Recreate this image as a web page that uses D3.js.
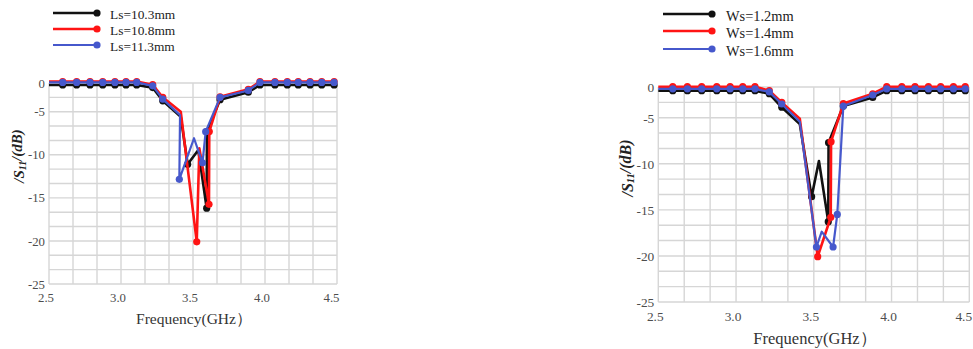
<!DOCTYPE html>
<html>
<head>
<meta charset="utf-8">
<script src="https://cdn.jsdelivr.net/npm/d3@7"></script>
<style>
  html, body { margin: 0; padding: 0; background: #fff; }
  svg { display: block; font-family: "Liberation Serif", "Times New Roman", serif; }
  svg text { font-family: "Liberation Serif", "Times New Roman", serif; }
</style>
</head>
<body>
<svg id="chart" width="973" height="349"></svg>
<script>
// ---- axis ticks ----
const xTicks = [2.5, 3.0, 3.5, 4.0, 4.5];
const yTicks = [0, -5, -10, -15, -20, -25];

// ---- slot length sweep (Ls) ----
const lsLabels = ["Ls=10.3mm", "Ls=10.8mm", "Ls=11.3mm"];
const ls103Freq = [2.5, 2.595, 2.692, 2.785, 2.873, 2.958, 3.035, 3.109, 3.22, 3.29, 3.415,
                   3.463, 3.537, 3.595, 3.597,
                   3.688, 3.884, 3.965, 4.069, 4.155, 4.231, 4.313, 4.394, 4.48];
const ls103S11 = [-0.35, -0.35, -0.35, -0.35, -0.35, -0.35, -0.35, -0.35, -0.8, -3.1, -5.6,
                  -11.1, -9.44, -16.2, -7.3,
                  -2.9, -1.6, -0.35, -0.35, -0.35, -0.35, -0.35, -0.35, -0.35];
const ls103Bare = [0, 10, 12];

const ls108Freq = [2.5, 2.595, 2.692, 2.785, 2.873, 2.958, 3.035, 3.109, 3.22, 3.29, 3.415,
                   3.526, 3.544, 3.611, 3.613,
                   3.688, 3.884, 3.965, 4.069, 4.155, 4.231, 4.313, 4.394, 4.48];
const ls108S11 = [0.25, 0.25, 0.25, 0.25, 0.25, 0.25, 0.25, 0.25, -0.3, -2.5, -5.0,
                  -20.1, -9.25, -15.75, -7.3,
                  -2.4, -1.1, 0.25, 0.25, 0.25, 0.25, 0.25, 0.25, 0.25];
const ls108Bare = [0, 10, 12];

const ls113Freq = [2.5, 2.595, 2.692, 2.785, 2.873, 2.958, 3.035, 3.109, 3.22, 3.29, 3.41,
                   3.405, 3.507, 3.566, 3.588,
                   3.688, 3.884, 3.965, 4.069, 4.155, 4.231, 4.313, 4.394, 4.48];
const ls113S11 = [0.1, 0.1, 0.1, 0.1, 0.1, 0.1, 0.1, 0.1, -0.5, -2.8, -5.4,
                  -12.85, -8.08, -10.93, -7.32,
                  -2.5, -1.3, 0.1, 0.1, 0.1, 0.1, 0.1, 0.1, 0.1];
const ls113Bare = [0, 10, 12];

// ---- slot width sweep (Ws) ----
const wsLabels = ["Ws=1.2mm", "Ws=1.4mm", "Ws=1.6mm"];
const ws12Freq = [2.5, 2.593, 2.687, 2.779, 2.876, 2.962, 3.043, 3.122, 3.214, 3.294, 3.41,
                  3.486, 3.533, 3.593, 3.595,
                  3.69, 3.879, 3.969, 4.066, 4.151, 4.237, 4.316, 4.398, 4.474];
const ws12S11 = [-0.6, -0.6, -0.6, -0.6, -0.6, -0.6, -0.6, -0.6, -1.1, -3.3, -5.7,
                 -13.57, -9.7, -16.28, -7.71,
                 -3.1, -1.7, -0.6, -0.6, -0.6, -0.6, -0.6, -0.6, -0.6];
const ws12Bare = [0, 10, 12];

const ws14Freq = [2.5, 2.593, 2.687, 2.779, 2.876, 2.962, 3.043, 3.122, 3.214, 3.294, 3.41,
                  3.525, 3.609, 3.611,
                  3.69, 3.879, 3.969, 4.066, 4.151, 4.237, 4.316, 4.398, 4.474];
const ws14S11 = [0.05, 0.05, 0.05, 0.05, 0.05, 0.05, 0.05, 0.05, -0.6, -2.5, -5.1,
                 -20.08, -15.8, -7.6,
                 -2.7, -1.1, 0.05, 0.05, 0.05, 0.05, 0.05, 0.05, 0.05];
const ws14Bare = [0, 10];

const ws16Freq = [2.5, 2.593, 2.687, 2.779, 2.876, 2.962, 3.043, 3.122, 3.214, 3.294, 3.41,
                  3.517, 3.551, 3.624, 3.651,
                  3.69, 3.879, 3.969, 4.066, 4.151, 4.237, 4.316, 4.398, 4.474];
const ws16S11 = [-0.3, -0.3, -0.3, -0.3, -0.3, -0.3, -0.3, -0.3, -0.8, -2.77, -5.43,
                 -19.03, -17.37, -19.03, -15.5,
                 -3.1, -1.3, -0.3, -0.3, -0.3, -0.3, -0.3, -0.3, -0.3];
const ws16Bare = [0, 10, 12];

const seriesColors = ["#111111", "#ff1414", "#4658cc"];
const seriesWidths = [2.6, 2.6, 2.2];
const serif = "'Liberation Serif', 'Times New Roman', serif";

function zipSeries(freq, s11, bare) {
  return freq.map((f, i) => ({ f, v: s11[i], marked: !bare.includes(i) }));
}

// The value axis labels sit on grid rows 0, 2, 5, 8, 11 and 14 of a 14-row grid.
const gridRowOfTick = [0, 2, 5, 8, 11, 14];
const gridRows = 14;

function drawPanel(svg, p) {
  const g = svg.append("g");
  const x = d3.scaleLinear().domain([2.5, 4.5]).range([p.left, p.right]);
  const row = d3.scaleLinear().domain([0, gridRows]).range([p.top, p.bottom]);
  const y = d3.scaleLinear().domain(yTicks).range(gridRowOfTick.map(r => row(r)));

  // grid
  const grid = g.append("g").attr("stroke", "#d6d6d6").attr("stroke-width", 1.4);
  d3.range(13).forEach(i => {
    const xv = x(2.5 + i / 6);
    grid.append("line").attr("x1", xv).attr("x2", xv).attr("y1", p.top).attr("y2", p.bottom);
  });
  d3.range(gridRows + 1).forEach(i => {
    grid.append("line").attr("x1", p.left).attr("x2", p.right).attr("y1", row(i)).attr("y2", row(i));
  });

  // axes
  const xAxis = g.append("g").attr("transform", `translate(0,${p.bottom})`)
    .call(d3.axisBottom(x).tickValues(xTicks).tickFormat(d3.format(".1f")).tickSize(0).tickPadding(p.xPad));
  xAxis.attr("font-family", null);
  xAxis.select(".domain").remove();
  xAxis.selectAll("text")
    .style("font-family", serif).style("font-size", p.tickFont + "px")
    .attr("fill", "#4d4d4d")
    .attr("dx", (d, i) => i === xTicks.length - 1 ? -6 : -3.5);

  const yAxis = g.append("g").attr("transform", `translate(${p.left},0)`)
    .call(d3.axisLeft(y).tickValues(yTicks).tickFormat(d => String(d)).tickSize(0).tickPadding(4));
  yAxis.attr("font-family", null);
  yAxis.select(".domain").remove();
  yAxis.selectAll("text")
    .style("font-family", serif).style("font-size", p.tickFont + "px")
    .attr("fill", "#4d4d4d");

  // titles
  g.append("text")
    .attr("x", p.xTitleX).attr("y", p.xTitleY)
    .attr("text-anchor", "middle").attr("dominant-baseline", "central")
    .attr("font-size", p.xTitleFont).attr("fill", "#333")
    .text("Frequency(GHz）");

  const yt = g.append("text")
    .attr("transform", `translate(${p.yTitleX},${p.yTitleY}) rotate(-90)`)
    .attr("text-anchor", "middle").attr("dominant-baseline", "central")
    .attr("font-size", p.yTitleFont).attr("font-weight", "bold").attr("font-style", "italic")
    .attr("fill", "#222");
  yt.append("tspan").text("/S");
  yt.append("tspan").attr("font-size", p.yTitleFont * 0.65).attr("dy", "0.3em").text("11");
  yt.append("tspan").attr("dy", "-0.3em").text("/(dB)");

  // series
  const line = d3.line().x(d => x(d.f)).y(d => y(d.v));
  p.series.forEach((s, i) => {
    const sg = g.append("g");
    sg.append("path").datum(s).attr("d", line)
      .attr("fill", "none").attr("stroke", seriesColors[i])
      .attr("stroke-width", seriesWidths[i]).attr("stroke-linejoin", "round");
    sg.selectAll("circle").data(s.filter(d => d.marked)).join("circle")
      .attr("cx", d => x(d.f)).attr("cy", d => y(d.v)).attr("r", 3.6)
      .attr("fill", seriesColors[i]);
  });

  // legend
  const lg = g.append("g");
  p.labels.forEach((lab, i) => {
    const ly = p.legendY[i];
    lg.append("line").attr("x1", p.legendX0).attr("x2", p.legendX1).attr("y1", ly).attr("y2", ly)
      .attr("stroke", seriesColors[i]).attr("stroke-width", seriesWidths[i]);
    lg.append("circle").attr("cx", p.legendX1).attr("cy", ly).attr("r", 3.6).attr("fill", seriesColors[i]);
    lg.append("text").attr("x", p.legendTextX).attr("y", ly + p.legendTextDy)
      .attr("dominant-baseline", "central").attr("font-size", p.legendFont).attr("fill", "#222")
      .text(lab);
  });
}

const svg = d3.select("#chart");

drawPanel(svg, {
  left: 49, right: 337, top: 83, bottom: 284,
  xPad: 9, tickFont: 12.8,
  xTitleX: 194, xTitleY: 318, xTitleFont: 15.5,
  yTitleX: 19, yTitleY: 156, yTitleFont: 15,
  legendX0: 53, legendX1: 97, legendTextX: 110, legendY: [13, 29, 45], legendTextDy: 1, legendFont: 13.4,
  labels: lsLabels,
  series: [
    zipSeries(ls103Freq, ls103S11, ls103Bare),
    zipSeries(ls108Freq, ls108S11, ls108Bare),
    zipSeries(ls113Freq, ls113S11, ls113Bare)
  ]
});

drawPanel(svg, {
  left: 658.3, right: 969.3, top: 87, bottom: 302,
  xPad: 9.5, tickFont: 13.4,
  xTitleX: 815, xTitleY: 338, xTitleFont: 16.5,
  yTitleX: 627, yTitleY: 168, yTitleFont: 16,
  legendX0: 663, legendX1: 712, legendTextX: 726, legendY: [14, 31, 49], legendTextDy: 1.5, legendFont: 14.4,
  labels: wsLabels,
  series: [
    zipSeries(ws12Freq, ws12S11, ws12Bare),
    zipSeries(ws14Freq, ws14S11, ws14Bare),
    zipSeries(ws16Freq, ws16S11, ws16Bare)
  ]
});
</script>
</body>
</html>
